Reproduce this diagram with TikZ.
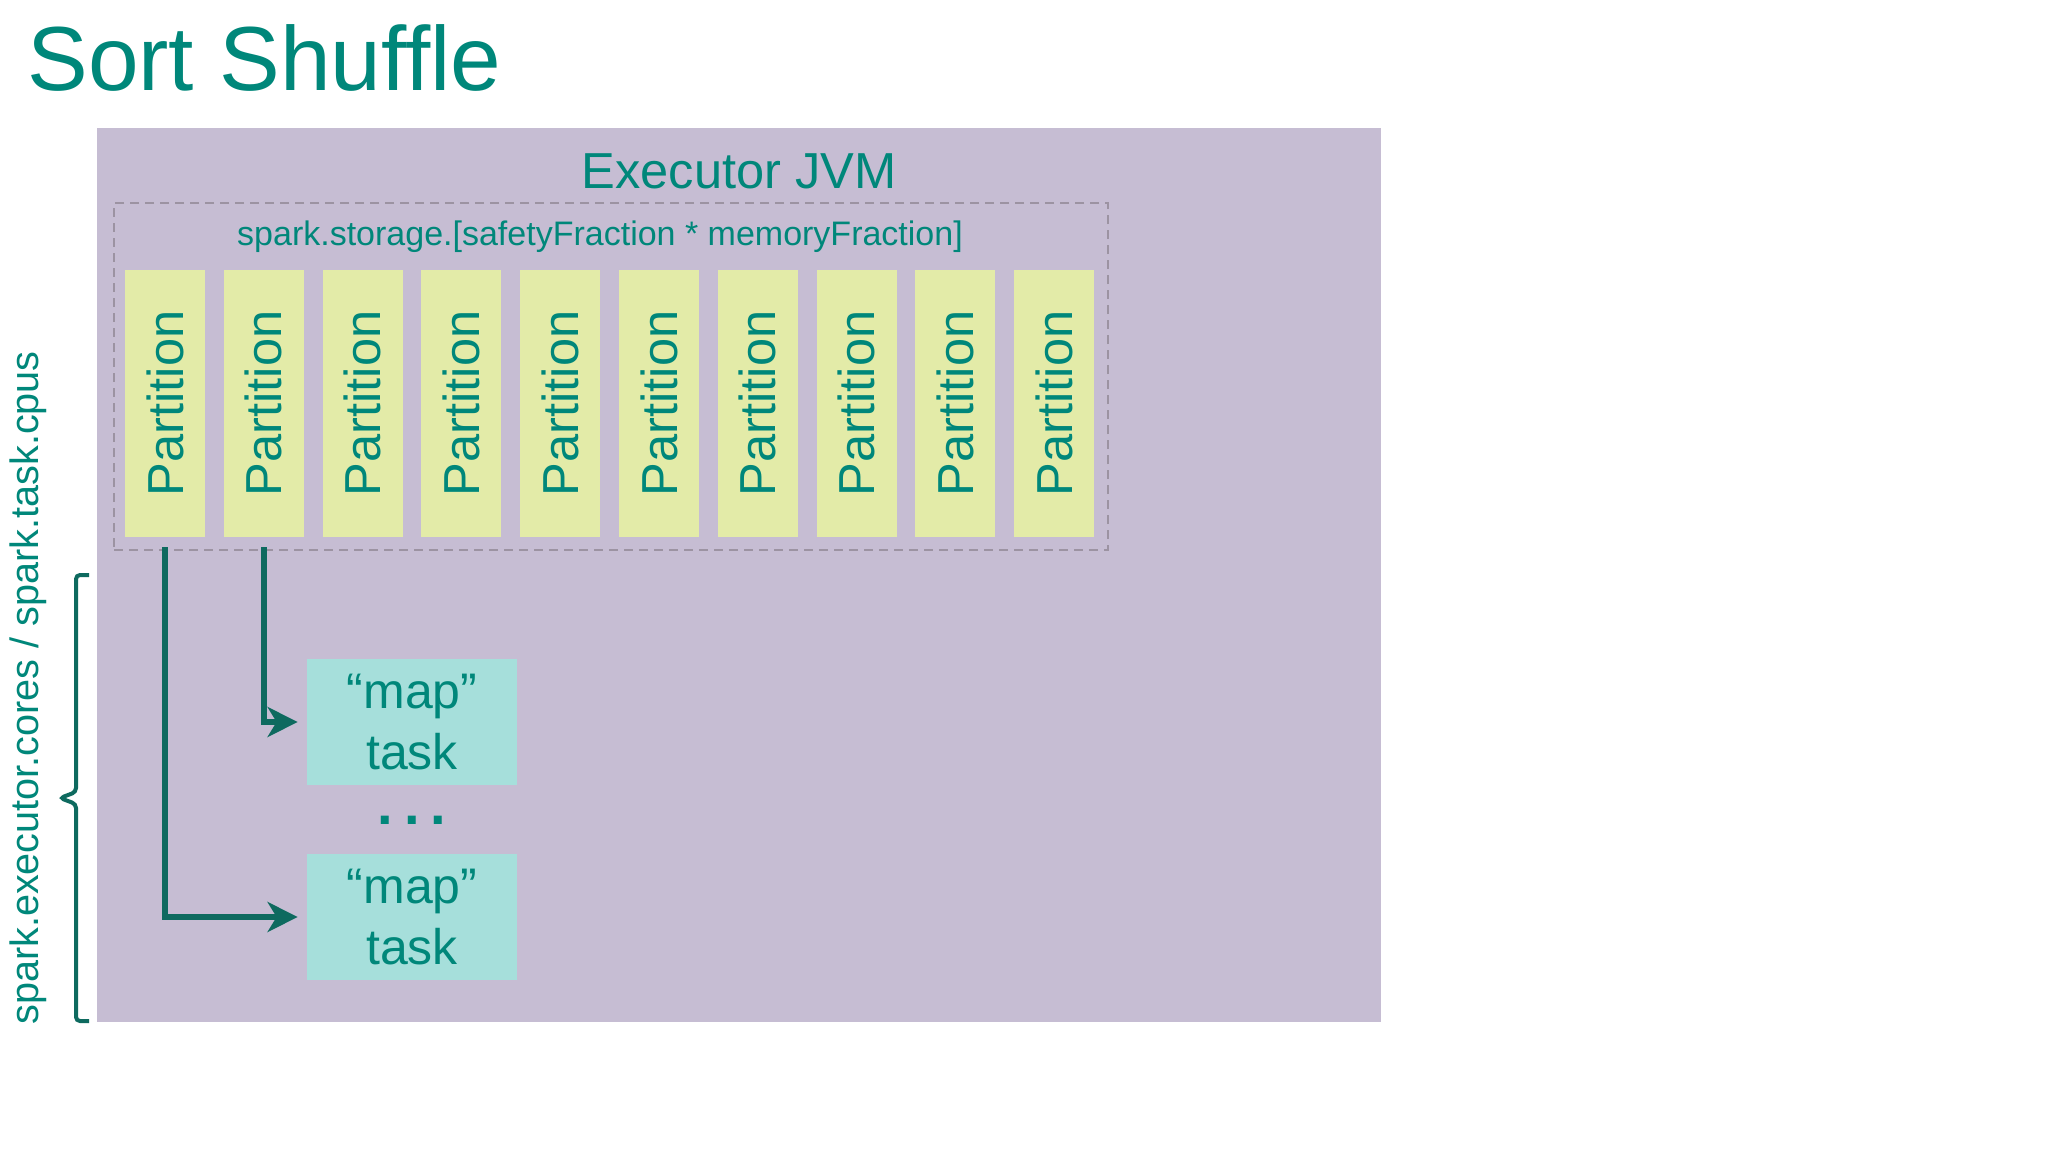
\documentclass[tikz,border=0pt]{standalone}
\usepackage{fontspec}
\setmainfont{Liberation Sans}
\usepackage{graphicx}
\usetikzlibrary{
    arrows.meta,
    positioning,
    fit
}
\definecolor{sparkteal}{HTML}{00877A}
\definecolor{darkteal}{HTML}{0E6A5F}
\definecolor{executorfill}{HTML}{C6BDD3}
\definecolor{partitionfill}{HTML}{E3EBA8}
\definecolor{taskfill}{HTML}{A6DFDB}
\definecolor{dashgray}{HTML}{9C93A2}
\tikzset{
    % Colors
    label color/.style={sparkteal},
    arrow color/.style={darkteal},
    %
    % Texts
    plain label/.style={label color,inner sep=0pt},
    %
    % Boxes
    executor/.style={fill=executorfill,inner sep=0pt},
    storage box/.style={draw=dashgray,line width=1.1pt,dash pattern=on 4.5pt off 3pt,inner sep=0pt},
    partition/.style={fill=partitionfill,text=sparkteal,minimum width=40pt,minimum height=133.5pt,inner sep=0pt,font=\fontsize{25.3}{30}\selectfont},
    task/.style={fill=taskfill,text=sparkteal,minimum width=105pt,minimum height=63pt,inner sep=0pt,align=center,font=\fontsize{25}{30.5}\selectfont},
    %
    % Arrows
    arrow tip/.tip={Stealth[length=15pt,width=15pt,inset=4.5pt]},
    arr/.style={->,>={arrow tip},arrow color,line width=2.8pt}
}

\begin{document}
\begin{tikzpicture}[x=0.5pt,y=-0.5pt]
    \path[use as bounding box,fill=white] (0,0) rectangle (2048,1152);
    \node[plain label,anchor=base west,font=\fontsize{45.5}{54}\selectfont] (title) at (27,90) {Sort Shuffle};
    \node[executor,fit={(97,128) (1381,1022)}] (exec) {};
    \node[plain label,anchor=base,font=\fontsize{25.3}{30}\selectfont] (jvm) at (739,188) {Executor JVM};
    \node[storage box,fit={(114,203) (1108,550)}] (store) {};
    \node[plain label,anchor=base,font=\fontsize{17}{20}\selectfont] (storelabel) at (600,245) {spark.storage.[safetyFraction * memoryFraction]};
    \foreach \i in {1,...,10}
        \node[partition] (p\i) at ({165+(\i-1)*98.8},403.5) {\rotatebox{90}{Partition}};
    \node[task] (task1) at (412,722) {“map”\\task};
    \node[task] (task2) at (412,917) {“map”\\task};
    \node[plain label,anchor=base,font=\fontsize{28}{32}\selectfont\bfseries] (dots) at (412,824) {.\hspace{5.4pt}.\hspace{5.4pt}.};
    \draw[arr,shorten >=4.5pt] ([yshift=-5pt]p1.south) |- (task2.west);
    \draw[arr,shorten >=4.5pt] ([yshift=-5pt]p2.south) |- (task1.west);
    % brace
    \draw[arrow color,line width=2pt,rounded corners=2pt] (89,575) -- (76,575) -- (76,792) -- (60,798) -- (76,804) -- (76,1021) -- (89,1021);
    \node[plain label,rotate=90,font=\fontsize{19.8}{24}\selectfont] (cpus) at (28,688) {spark.executor.cores / spark.task.cpus};
\end{tikzpicture}
\end{document}
